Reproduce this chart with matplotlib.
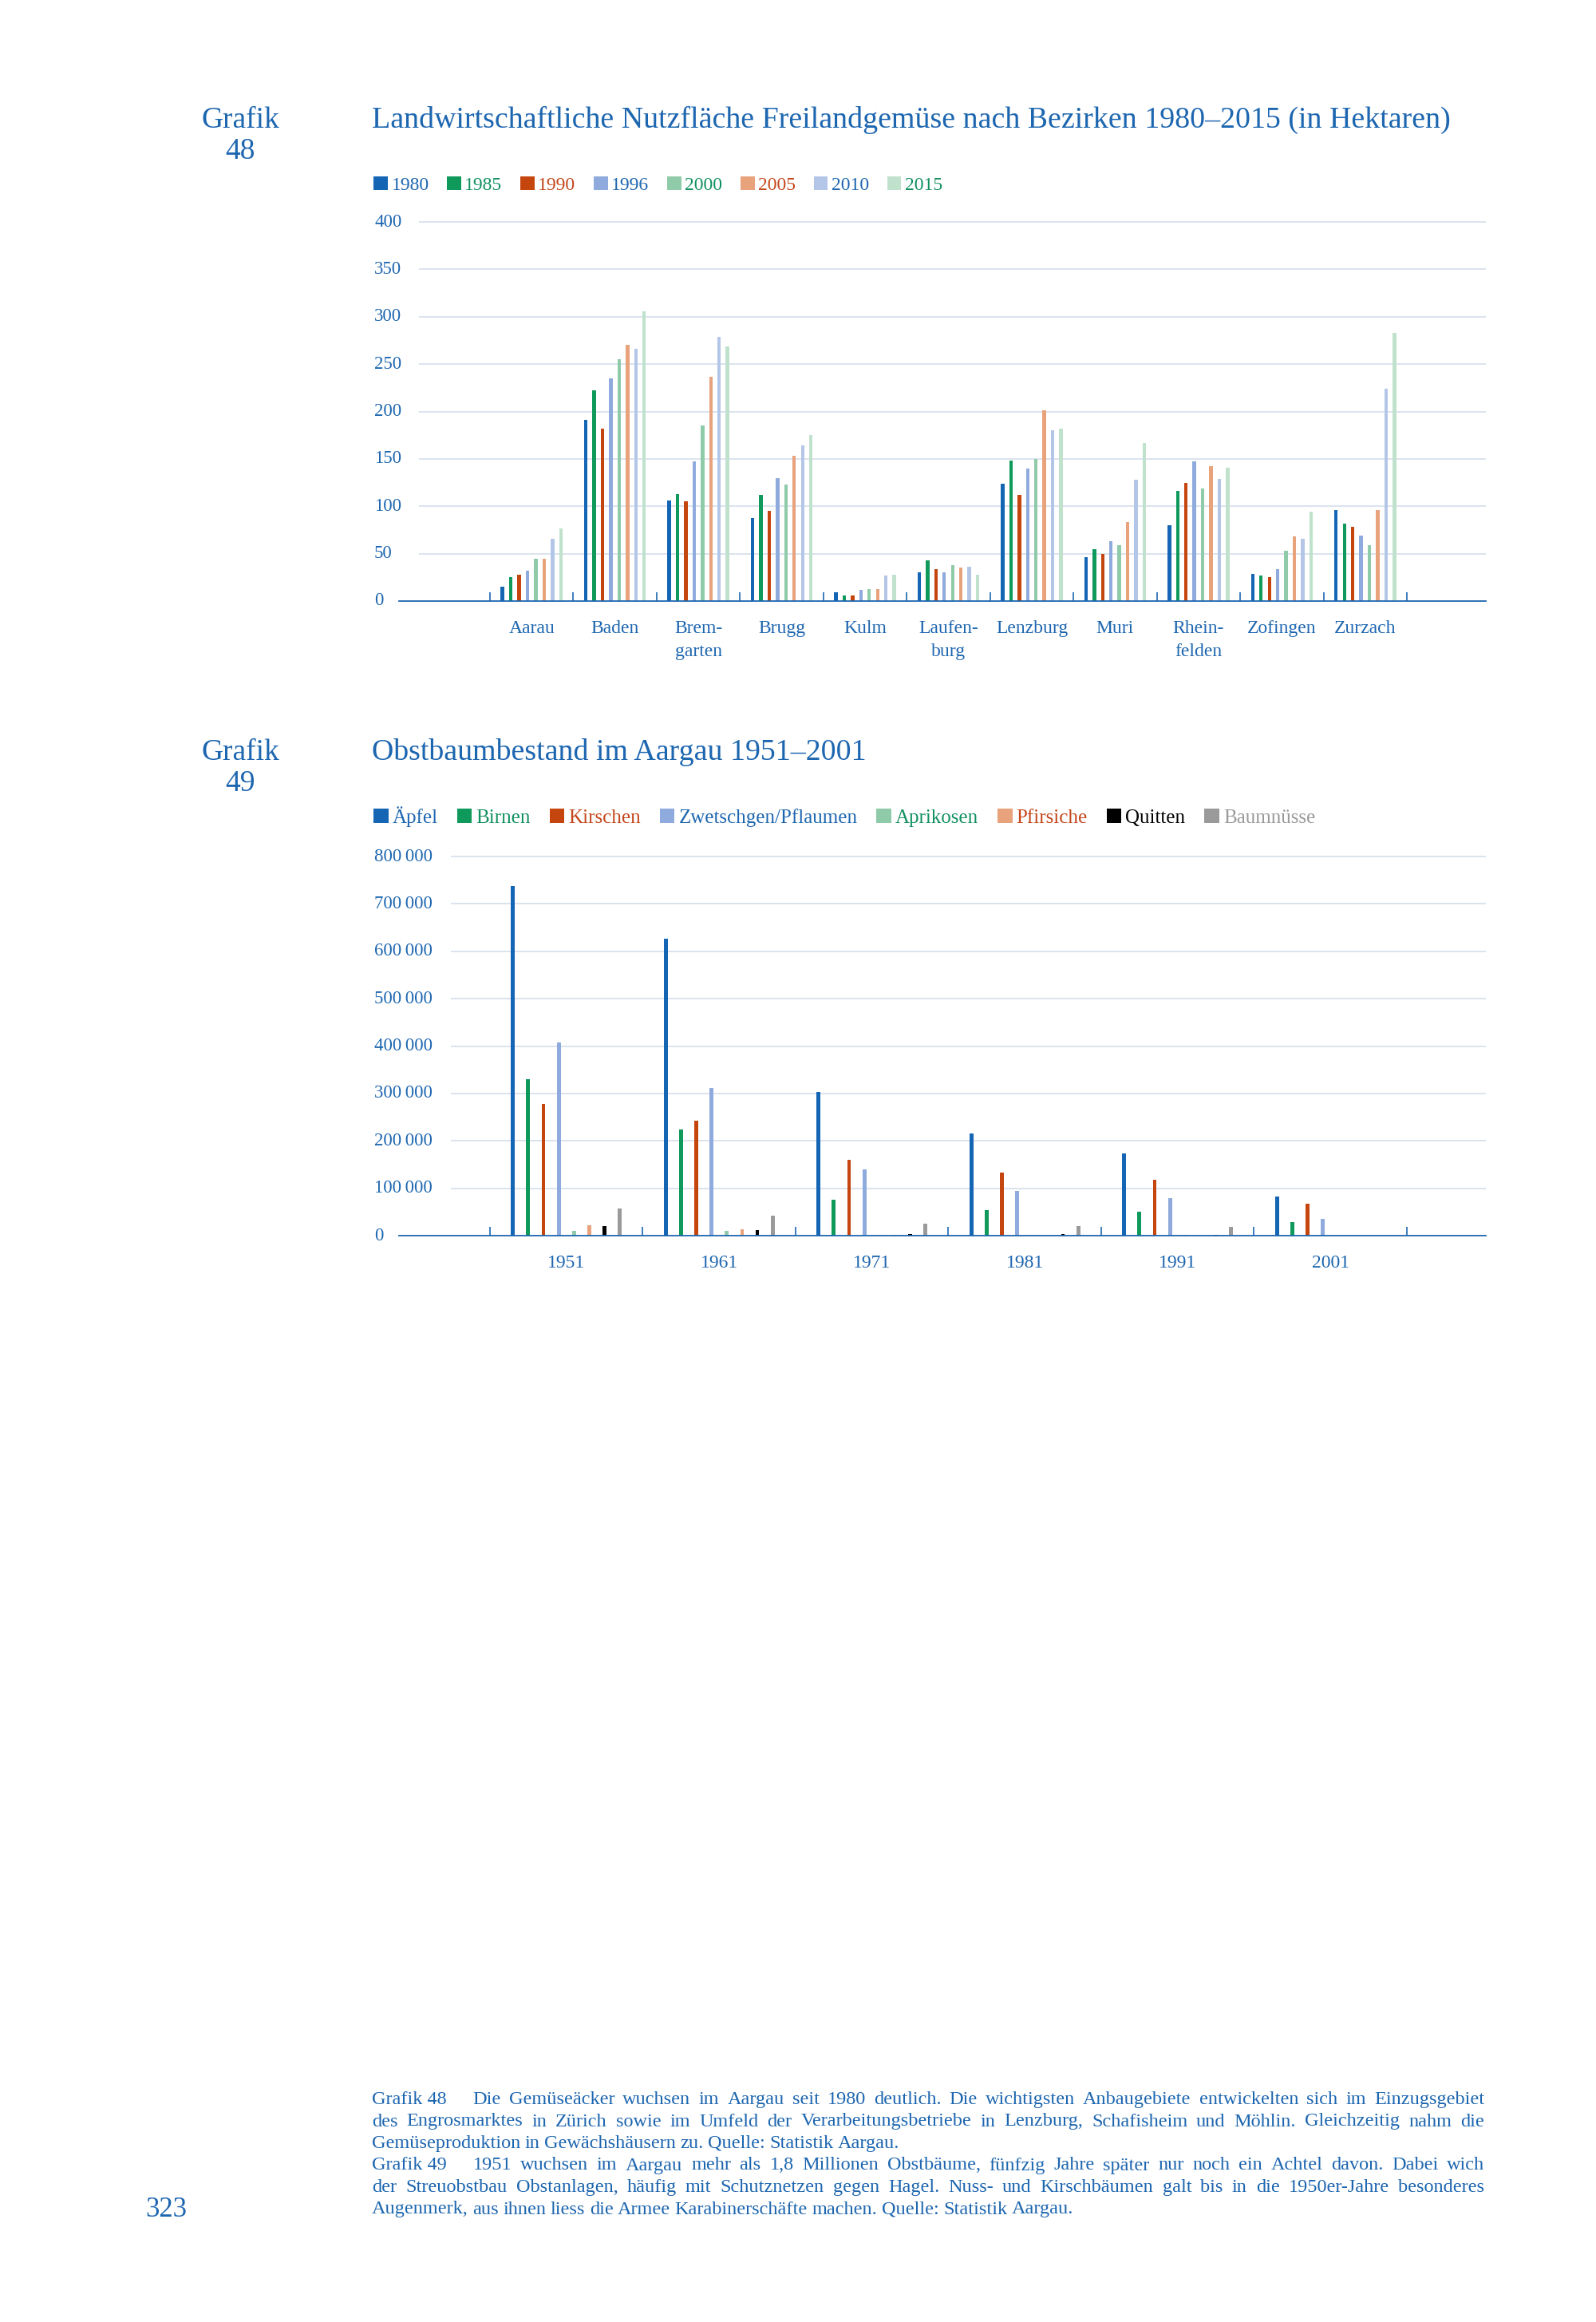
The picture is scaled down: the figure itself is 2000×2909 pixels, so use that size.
import matplotlib
matplotlib.use('Agg')
import matplotlib.pyplot as plt
import matplotlib.transforms as mtransforms
import numpy as np
from matplotlib.patches import Patch

plt.rcParams['font.family'] = ['Liberation Serif', 'DejaVu Serif']

# Grafik 48 data (hectares)
districts = ['Aarau', 'Baden', 'Brem-\ngarten', 'Brugg', 'Kulm', 'Laufen-\nburg',
             'Lenzburg', 'Muri', 'Rhein-\nfelden', 'Zofingen', 'Zurzach']
years = ['1980', '1985', '1990', '1996', '2000', '2005', '2010', '2015']
ha_1980 = [15, 191, 106, 88, 9, 30, 124, 46, 80, 29, 96]
ha_1985 = [25, 222, 113, 112, 6, 43, 148, 55, 116, 27, 82]
ha_1990 = [28, 182, 105, 95, 6, 34, 112, 50, 125, 25, 78]
ha_1996 = [32, 235, 147, 130, 12, 30, 140, 63, 147, 34, 69]
ha_2000 = [45, 255, 185, 123, 13, 38, 150, 59, 119, 53, 59]
ha_2005 = [45, 270, 237, 153, 13, 35, 201, 83, 142, 68, 96]
ha_2010 = [66, 266, 279, 164, 27, 36, 180, 128, 129, 66, 224]
ha_2015 = [77, 306, 269, 175, 28, 28, 182, 167, 141, 94, 283]

# Grafik 49 data (number of trees)
jahre = ['1951', '1961', '1971', '1981', '1991', '2001']
sorten = ['Äpfel', 'Birnen', 'Kirschen', 'Zwetschgen/Pflaumen', 'Aprikosen',
          'Pfirsiche', 'Quitten', 'Baumnüsse']
aepfel = [738000, 626000, 303000, 216000, 173000, 82000]
birnen = [330000, 224000, 76000, 54000, 51000, 29000]
kirschen = [278000, 243000, 160000, 133000, 118000, 67000]
zwetschgen = [407000, 311000, 139000, 94000, 80000, 36000]
aprikosen = [9600, 9600, 1500, 1000, 1000, 500]
pfirsiche = [21600, 13800, 1000, 800, 800, 0]
quitten = [19800, 12000, 3000, 2900, 2400, 0]
baumnuesse = [57000, 41500, 24900, 20800, 18500, 0]

BLUE = '#1d66b0'
GREEN_TXT = '#119060'
RED_TXT = '#c4461a'
GRID = '#d8e1ed'

col_48 = ['#1565b5', '#0f9a5c', '#c5450f', '#8faadc', '#8fcaa9', '#e8a27c', '#b4c6e7', '#c0e2cd']
txt_48 = [BLUE, GREEN_TXT, RED_TXT, BLUE, GREEN_TXT, RED_TXT, BLUE, GREEN_TXT]
col_49 = ['#1565b5', '#0f9a5c', '#c5450f', '#8faadc', '#8fcaa9', '#e8a27c', '#000000', '#9a9a9a']
txt_49 = [BLUE, GREEN_TXT, RED_TXT, BLUE, GREEN_TXT, RED_TXT, '#000000', '#9a9a9a']

W, H = 2000, 2909
fig = plt.figure(figsize=(20, 29.09), dpi=100)


def fx(px):
    return px / W


def fy(py):
    return 1 - py / H


def bar_chart(top, bottom, cats, names, series, colors, label_colors, ymax, ystep,
              xl, grid_x, bar_w, fmt, legend_y, leg_fs, leg_sp):
    ax = fig.add_axes([fx(500), fy(bottom), fx(1862) - fx(500), (bottom - top) / H])
    n = len(series)
    x = np.arange(len(cats))
    for i in range(n):
        ax.bar(x + (i - (n - 1) / 2) * 0.1, series[i], width=bar_w, color=colors[i],
               linewidth=0, zorder=2)
    ax.set_xlim(xl)
    ax.set_ylim(0, ymax)
    yt = np.arange(0, ymax + 1, ystep)
    ax.hlines(yt[1:], grid_x, xl[1], color=GRID, lw=1.3, zorder=0, clip_on=False)
    # y labels sit flush left under the heading
    trans = mtransforms.blended_transform_factory(fig.transFigure, ax.transData)
    for v in yt:
        ax.text(fx(469), v, fmt(v), ha='left', va='center', fontsize=16.5, color=BLUE,
                transform=trans)
    for s in ['top', 'right', 'left']:
        ax.spines[s].set_visible(False)
    ax.spines['bottom'].set_color(BLUE)
    ax.spines['bottom'].set_linewidth(1.3)
    ax.set_yticks([])
    ax.set_xticks(x)
    ax.set_xticklabels(cats, fontsize=17, color=BLUE, linespacing=1.5)
    ax.set_xticks(np.arange(len(cats) + 1) - 0.5, minor=True)
    ax.tick_params(axis='x', which='major', length=0, pad=17)
    ax.tick_params(axis='x', which='minor', direction='in', length=8, width=1.2, color=BLUE)
    ax.patch.set_visible(False)

    handles = [Patch(facecolor=c, edgecolor='none') for c in colors]
    leg = fig.legend(handles, names, loc='center left', bbox_to_anchor=(fx(468), fy(legend_y)),
                     ncol=n, frameon=False, fontsize=leg_fs, handlelength=0.75, handleheight=0.75,
                     handletextpad=0.2, columnspacing=leg_sp, borderaxespad=0, borderpad=0)
    for t, c in zip(leg.get_texts(), label_colors):
        t.set_color(c)
    return ax


# page headings
fig.text(fx(301), fy(160), 'Grafik', fontsize=27, color=BLUE, ha='center', va='baseline')
fig.text(fx(301), fy(199), '48', fontsize=27, color=BLUE, ha='center', va='baseline')
fig.text(fx(466), fy(160),
         'Landwirtschaftliche Nutzfläche Freilandgemüse nach Bezirken 1980–2015 (in Hektaren)',
         fontsize=27.3, color=BLUE, ha='left', va='baseline')

fig.text(fx(301), fy(952), 'Grafik', fontsize=27, color=BLUE, ha='center', va='baseline')
fig.text(fx(301), fy(991), '49', fontsize=27, color=BLUE, ha='center', va='baseline')
fig.text(fx(466), fy(952), 'Obstbaumbestand im Aargau 1951–2001',
         fontsize=27.3, color=BLUE, ha='left', va='baseline')

bar_chart(278, 753, districts, years,
          [ha_1980, ha_1985, ha_1990, ha_1996, ha_2000, ha_2005, ha_2010, ha_2015],
          col_48, txt_48, 400, 50, (-1.591, 11.447), -1.352, 0.042,
          lambda v: f'{int(v)}', 232, 17, 0.95)

bar_chart(1073, 1548, jahre, sorten,
          [aepfel, birnen, kirschen, zwetschgen, aprikosen, pfirsiche, quitten, baumnuesse],
          col_49, txt_49, 800000, 100000, (-1.095, 6.017), -0.756, 0.025,
          lambda v: f'{int(v):,}'.replace(',', '\u2009'), 1023, 18, 0.95)

# footnote, justified to the text block
renderer = fig.canvas.get_renderer()
foot = [
    ('Grafik 48', 'Die Gemüseäcker wuchsen im Aargau seit 1980 deutlich. Die wichtigsten Anbaugebiete entwickelten sich im Einzugsgebiet', True),
    ('', 'des Engrosmarktes in Zürich sowie im Umfeld der Verarbeitungsbetriebe in Lenzburg, Schafisheim und Möhlin. Gleichzeitig nahm die', True),
    ('', 'Gemüseproduktion in Gewächshäusern zu. Quelle: Statistik Aargau.', False),
    ('Grafik 49', '1951 wuchsen im Aargau mehr als 1,8 Millionen Obstbäume, fünfzig Jahre später nur noch ein Achtel davon. Dabei wich', True),
    ('', 'der Streuobstbau Obstanlagen, häufig mit Schutznetzen gegen Hagel. Nuss- und Kirschbäumen galt bis in die 1950er-Jahre besonderes', True),
    ('', 'Augenmerk, aus ihnen liess die Armee Karabinerschäfte machen. Quelle: Statistik Aargau.', False),
]
x_left, x_right = 466, 1860
fs = 17.5
for k, (lead, line, just) in enumerate(foot):
    y = fy(2636 + k * 27.5)
    words = line.split(' ')
    x0 = x_left
    if lead:
        t = fig.text(fx(x0), y, lead, fontsize=fs, color=BLUE, va='baseline')
        x0 += t.get_window_extent(renderer).width + 33
    arts = []
    widths = []
    for w in words:
        t = fig.text(0, y, w, fontsize=fs, color=BLUE, va='baseline')
        arts.append(t)
        widths.append(t.get_window_extent(renderer).width)
    space = 5.5
    if just and len(words) > 1:
        space = (x_right - x0 - sum(widths)) / (len(words) - 1)
    xp = x0
    for t, wd in zip(arts, widths):
        t.set_x(fx(xp))
        xp += wd + space

fig.text(fx(182), fy(2777), '323', fontsize=25, color=BLUE, va='baseline')

fig.savefig('out.png', dpi=100, facecolor='white')
